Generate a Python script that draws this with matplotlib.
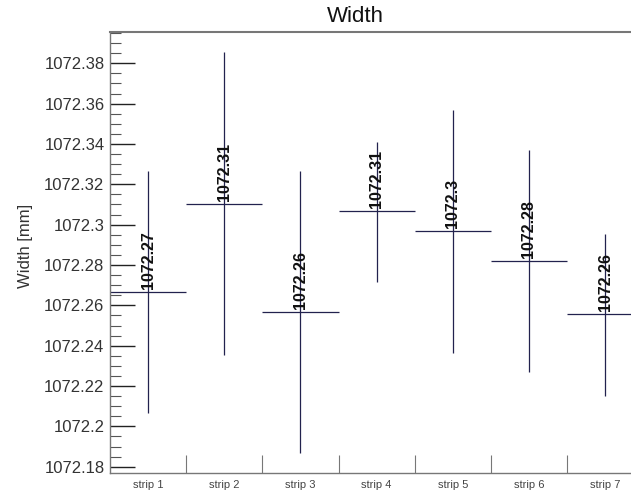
import numpy as np
import matplotlib
matplotlib.use("Agg")
import matplotlib.pyplot as plt
from matplotlib.ticker import MultipleLocator, FuncFormatter

plt.rcParams["font.family"] = ["Liberation Sans", "DejaVu Sans"]

# width per strip: mean and min/max range [mm]
strips = ["strip 1", "strip 2", "strip 3", "strip 4", "strip 5", "strip 6", "strip 7"]
mean_w = [1072.2668, 1072.3102, 1072.2568, 1072.3068, 1072.2970, 1072.2820, 1072.2556]
min_w = [1072.2068, 1072.2354, 1072.1867, 1072.2717, 1072.2365, 1072.2268, 1072.2150]
max_w = [1072.3267, 1072.3858, 1072.3267, 1072.3411, 1072.3568, 1072.3370, 1072.2954]

line_col = "#22224e"
spine_col = "#777777"

fig = plt.figure(figsize=(6.31, 4.96), dpi=100)
ax = fig.add_axes([110 / 631, 23 / 496, 533.2 / 631, 441 / 496])

x = np.arange(1, len(strips) + 1)
ax.vlines(x, min_w, max_w, color=line_col, lw=0.9)
ax.hlines(mean_w, x - 0.5, x + 0.5, color=line_col, lw=0.9)

for xi, m in zip(x, mean_w):
    ax.annotate(f"{round(m, 2):g}", (xi, m), xytext=(0, 2), textcoords="offset points",
                rotation=90, ha="center", va="bottom", fontsize=11.5,
                fontweight="bold", color="#111111")

ax.set_xlim(0.5, len(strips) + 0.5)
ax.set_ylim(1072.1769, 1072.3955)

# y axis: major every 0.02, minor every 0.005, ticks pointing inward
ax.yaxis.set_major_locator(MultipleLocator(0.02))
ax.yaxis.set_minor_locator(MultipleLocator(0.005))
ax.yaxis.set_major_formatter(FuncFormatter(lambda v, p: f"{round(v, 2):g}"))
ax.tick_params(axis="y", which="major", direction="in", length=18, width=1,
               color="#222222", labelsize=12, labelcolor="#333333", pad=4)
ax.tick_params(axis="y", which="minor", direction="in", length=8, width=0.8,
               color="#555555")

# x axis: ticks on strip boundaries, labels centred under each strip
ax.set_xticks(np.arange(1.5, len(strips)), minor=False)
ax.set_xticklabels([])
ax.set_xticks(x, minor=True)
ax.set_xticklabels(strips, minor=True)
ax.tick_params(axis="x", which="major", direction="in", length=13, width=0.8,
               color=spine_col)
ax.tick_params(axis="x", which="minor", length=0, labelsize=8,
               labelcolor="#444444", pad=5)

for side in ["left", "bottom", "top"]:
    ax.spines[side].set_color(spine_col)
    ax.spines[side].set_linewidth(1.0)
ax.spines["top"].set_linewidth(1.5)
ax.spines["right"].set_visible(False)

ax.set_ylabel("Width [mm]", fontsize=12, color="#333333")
ax.yaxis.set_label_coords(33 / 631, 250 / 496, transform=fig.transFigure)
fig.text(355 / 631, 1 - 17 / 496, "Width", fontsize=16, ha="center", va="center",
         color="#111111")

fig.savefig("out.png", dpi=100)
